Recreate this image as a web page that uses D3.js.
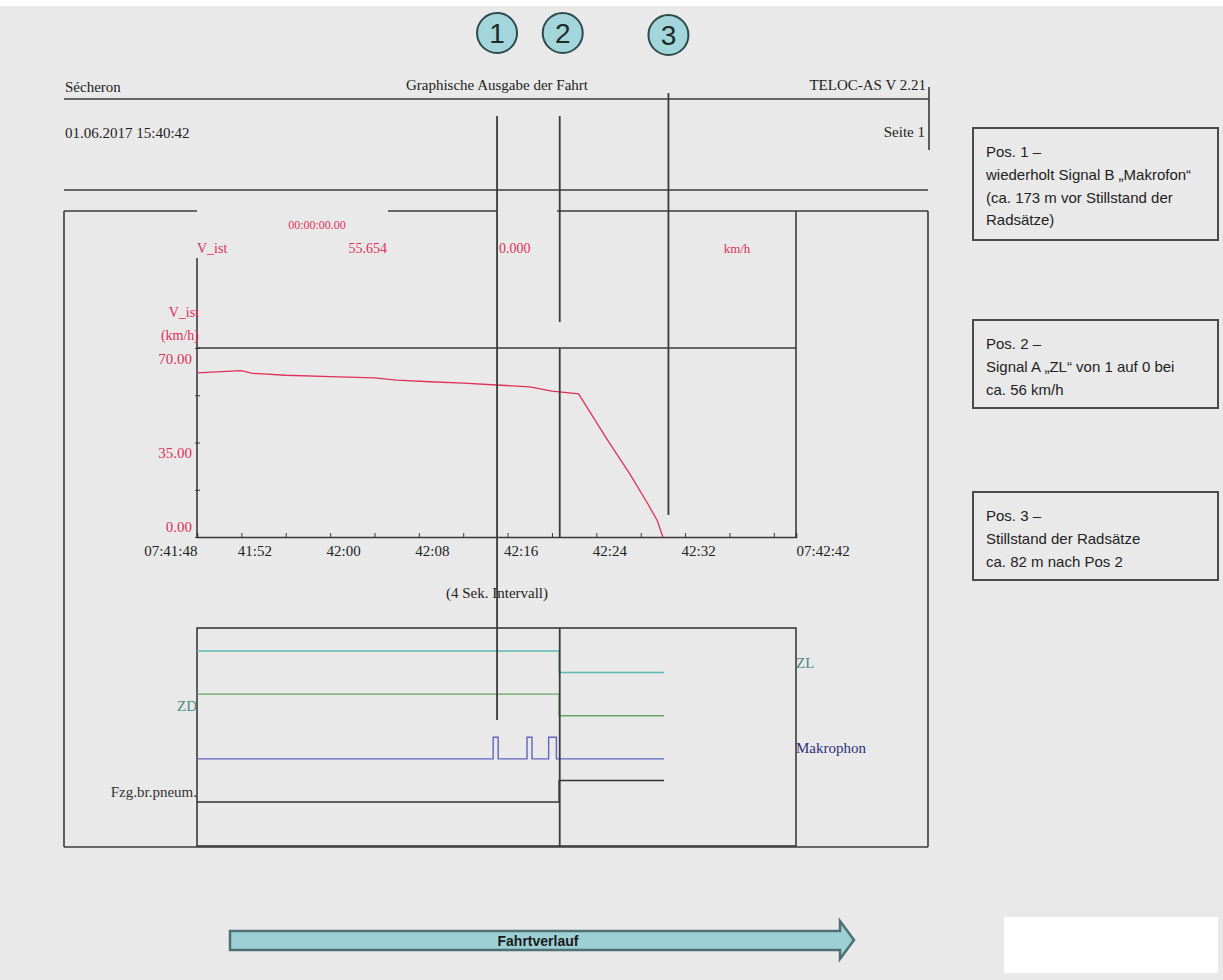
<!DOCTYPE html>
<html>
<head>
<meta charset="utf-8">
<script src="https://d3js.org/d3.v7.min.js"></script>
<style>
  body { margin: 0; background: #e9e9e9; }
</style>
</head>
<body>
<div class="chart"></div>
<script>
// ---- data ----
const startTime = "07:41:48";
const endTime = "07:42:42";

// V_ist, seconds after 07:41:48 and km/h
const speedSec = [0, 4, 5, 8, 12, 16, 18, 21, 24, 27, 30, 32, 34.4, 37, 39, 40.6, 41.5, 42];
const speedKmh = [60.8, 61.6, 60.6, 59.9, 59.4, 58.9, 58.1, 57.5, 57.0, 56.3, 55.6, 54.0, 53.0, 36.0, 23.5, 12.6, 6.0, 0];

const xLabelTimes = ["07:41:48", "07:41:52", "07:42:00", "07:42:08", "07:42:16", "07:42:24", "07:42:32", "07:42:42"];
const yLabelValues = [0, 35, 70];
const yTickValues = [0, 17.5, 35, 52.5, 70];

// digital signals: change times (s) and levels
const signalNames = ["Fzg.br.pneum.", "Makrophon", "ZD", "ZL"];
const fzgSec = [0, 32.65, 42.1];
const fzgVal = [0, 1, 1];
const makSec = [0, 26.7, 27.15, 29.75, 30.2, 31.7, 32.4, 42.1];
const makVal = [0, 1, 0, 1, 0, 1, 0, 0];
const zdSec = [0, 32.65, 42.1];
const zdVal = [1, 0, 0];
const zlSec = [0, 32.65, 42.1];
const zlVal = [1, 0, 0];

// marked positions (s after start)
const posSec = [27.05, 32.7, 42.5];
const posLabels = ["1", "2", "3"];

const readoutLabels = ["00:00:00.00", "V_ist", "55.654", "0.000", "km/h"];

const noteTitles = ["Pos. 1 \u2013", "Pos. 2 \u2013", "Pos. 3 \u2013"];
const noteLines = [
  ["wiederholt Signal B \u201EMakrofon\u201C", "(ca. 173 m vor Stillstand der", "Rads\u00E4tze)"],
  ["Signal A \u201EZL\u201C von 1 auf 0 bei", "ca. 56 km/h"],
  ["Stillstand der Rads\u00E4tze", "ca. 82 m nach Pos 2"]
];

// ---- setup ----
const serif = "'Liberation Serif', 'DejaVu Serif', serif";
const sans = "'Liberation Sans', Arial, sans-serif";
const ink = "#3a3a3a";
const red = "#e0305a";

const svg = d3.select(".chart").append("svg")
  .attr("width", 1223)
  .attr("height", 980)
  .style("font-family", serif);

svg.append("rect").attr("width", 1223).attr("height", 980).attr("fill", "#e9e9e9");
svg.append("rect").attr("width", 1223).attr("height", 6).attr("fill", "#ffffff");

const parseTime = d3.timeParse("%H:%M:%S");
const t0 = parseTime(startTime);
const t1 = parseTime(endTime);
const atSec = s => new Date(t0.getTime() + s * 1000);

const x = d3.scaleTime().domain([t0, t1]).range([197, 796]);
const y = d3.scaleLinear().domain([0, 70]).range([537, 348]);
// signal panel: two half-rows per signal (low / high)
const ySig = d3.scaleLinear().domain([0, 7]).range([802, 651]);

function seg(x1, y1, x2, y2, w) {
  svg.append("line")
    .attr("x1", x1).attr("y1", y1).attr("x2", x2).attr("y2", y2)
    .attr("stroke", ink).attr("stroke-width", w || 1.6);
}
function txt(tx, ty, s, opts) {
  const o = opts || {};
  return svg.append("text")
    .attr("x", tx).attr("y", ty)
    .attr("text-anchor", o.anchor || "start")
    .attr("font-size", o.size || 15)
    .attr("font-family", o.family || serif)
    .attr("font-weight", o.weight || "normal")
    .attr("fill", o.fill || "#222")
    .text(s);
}

// ---- page header ----
seg(64, 99, 929, 99);
seg(929, 87, 929, 150);
seg(64, 190, 928, 190);
txt(65, 92, "S\u00E9cheron");
txt(588, 90, "Graphische Ausgabe der Fahrt", {anchor: "end"});
txt(926, 90, "TELOC-AS V 2.21", {anchor: "end"});
txt(65, 138, "01.06.2017  15:40:42");
txt(925, 137, "Seite 1", {anchor: "end"});

// ---- outer frame ----
seg(64, 211, 197, 211);
seg(388, 211, 497, 211);
seg(557, 211, 928, 211);
seg(64, 211, 64, 847);
seg(928, 211, 928, 847);
seg(64, 847, 928, 847);

// readout line
txt(317, 229, readoutLabels[0], {anchor: "middle", size: 12, fill: red});
txt(197, 253, readoutLabels[1], {size: 14, fill: red});
txt(387, 253, readoutLabels[2], {anchor: "end", size: 14, fill: red});
txt(499, 253, readoutLabels[3], {size: 14, fill: red});
txt(737, 253, readoutLabels[4], {anchor: "middle", size: 13, fill: red});

// ---- speed plot ----
seg(197, 258, 197, 537);
seg(796, 211, 796, 537);
seg(x.range()[0], y(70), x.range()[1], y(70));

const yAxis = d3.axisLeft(y)
  .tickValues(yTickValues)
  .tickSize(3)
  .tickPadding(2)
  .tickFormat(d => yLabelValues.includes(d) ? d3.format(".2f")(d) : "");

svg.append("g")
  .attr("transform", "translate(197,0)")
  .call(yAxis)
  .call(g => g.select(".domain").remove())
  .call(g => g.selectAll(".tick line").attr("stroke", ink).attr("x2", 3).attr("x1", -2))
  .call(g => g.selectAll(".tick text")
    .attr("font-family", serif)
    .attr("font-size", 15)
    .attr("fill", red)
    .attr("dy", d => d === 0 ? "-0.35em" : "1.0em"));

txt(199, 317, "V_ist", {anchor: "end", size: 14, fill: red});
txt(199, 340, "(km/h)", {anchor: "end", size: 14, fill: red});

const xMinor = d3.axisBottom(x)
  .ticks(d3.timeSecond.every(4))
  .tickSize(-4)
  .tickFormat("");
svg.append("g")
  .attr("transform", "translate(0,537)")
  .call(xMinor)
  .call(g => g.select(".domain").attr("stroke", ink).attr("stroke-width", 1.6))
  .call(g => g.selectAll(".tick line").attr("stroke", ink));

const fullFmt = d3.timeFormat("%H:%M:%S");
const shortFmt = d3.timeFormat("%M:%S");
const labelDates = xLabelTimes.map(parseTime);
const xLabels = d3.axisBottom(x)
  .tickValues(labelDates)
  .tickSize(0)
  .tickPadding(8)
  .tickFormat((d, i) => (i === 0 || i === labelDates.length - 1) ? fullFmt(d) : shortFmt(d));
svg.append("g")
  .attr("transform", "translate(0,537)")
  .call(xLabels)
  .call(g => g.select(".domain").remove())
  .call(g => g.selectAll(".tick text")
    .attr("font-family", serif)
    .attr("font-size", 15)
    .attr("fill", "#222")
    .attr("text-anchor", (d, i) => i === 0 ? "end" : "start")
    .attr("dx", (d, i) => (i === 0 || i === labelDates.length - 1) ? 0 : -4));

txt(497, 598, "(4 Sek. Intervall)", {anchor: "middle"});

const speedData = speedSec.map((s, i) => ({t: atSec(s), v: speedKmh[i]}));
svg.append("path")
  .datum(speedData)
  .attr("fill", "none")
  .attr("stroke", red)
  .attr("stroke-width", 1.3)
  .attr("d", d3.line().x(d => x(d.t)).y(d => y(d.v)));

// ---- signal panel ----
svg.append("rect")
  .attr("x", 197).attr("y", 628).attr("width", 796 - 197).attr("height", 846 - 628)
  .attr("fill", "none").attr("stroke", ink).attr("stroke-width", 1.6);

const signals = [
  {name: signalNames[0], sec: fzgSec, val: fzgVal, color: "#333333", label: "#333333", side: "left", ly: 797},
  {name: signalNames[1], sec: makSec, val: makVal, color: "#6464c0", label: "#2e2e78", side: "right", ly: 753},
  {name: signalNames[2], sec: zdSec, val: zdVal, color: "#62a662", label: "#4a8f86", side: "left", ly: 711},
  {name: signalNames[3], sec: zlSec, val: zlVal, color: "#5cbab0", label: "#4f8a80", side: "right", ly: 668}
];

const stepLine = d3.line().curve(d3.curveStepAfter);
signals.forEach((sg, row) => {
  const pts = sg.sec.map((s, i) => [x(atSec(s)), ySig(2 * row + sg.val[i])]);
  svg.append("path")
    .attr("d", stepLine(pts))
    .attr("fill", "none")
    .attr("stroke", sg.color)
    .attr("stroke-width", row === 0 ? 1.6 : 1.4);
  if (sg.side === "left") {
    txt(197, sg.ly, sg.name, {anchor: "end", size: 15, fill: sg.label});
  } else {
    txt(796, sg.ly, sg.name, {size: 15, fill: sg.label});
  }
});

// ---- position markers ----
const posSegments = [
  [[116, 720]],
  [[116, 322], [348, 537], [628, 846]],
  [[93, 515]]
];
posSec.forEach((s, i) => {
  const px = x(atSec(s));
  posSegments[i].forEach(p => seg(px, p[0], px, p[1], 1.8));
  const cy = i === 2 ? 35 : 33;
  svg.append("circle")
    .attr("cx", px + (i === 1 ? 3 : 0)).attr("cy", cy).attr("r", 20)
    .attr("fill", "#a3d6da").attr("stroke", "#2d4a4c").attr("stroke-width", 2);
  txt(px + (i === 1 ? 3 : 0), cy + 10, posLabels[i], {anchor: "middle", size: 28, family: sans, fill: "#1c2b2c"});
});

// ---- notes on the right ----
const noteBoxes = [[128, 240], [320, 408], [492, 580]];
noteBoxes.forEach((b, i) => {
  svg.append("rect")
    .attr("x", 973).attr("y", b[0]).attr("width", 245).attr("height", b[1] - b[0])
    .attr("fill", "none").attr("stroke", "#4a4a4a").attr("stroke-width", 2);
  txt(986, b[0] + 29, noteTitles[i], {size: 15, family: sans, fill: "#222"});
  noteLines[i].forEach((l, j) => {
    txt(986, b[0] + 52 + j * 22.7, l, {size: 15, family: sans, fill: "#222"});
  });
});

// ---- direction arrow ----
svg.append("polygon")
  .attr("points", [[230, 931], [840, 931], [840, 921], [854, 940], [840, 959], [840, 950], [230, 950]].join(" "))
  .attr("fill", "#9dd0d4").attr("stroke", "#4f7073").attr("stroke-width", 2.5);
txt(538, 946, "Fahrtverlauf", {anchor: "middle", size: 14, family: sans, weight: "bold", fill: "#1a1a1a"});

svg.append("rect")
  .attr("x", 1004).attr("y", 917).attr("width", 214).attr("height", 56)
  .attr("fill", "#ffffff");
</script>
</body>
</html>
